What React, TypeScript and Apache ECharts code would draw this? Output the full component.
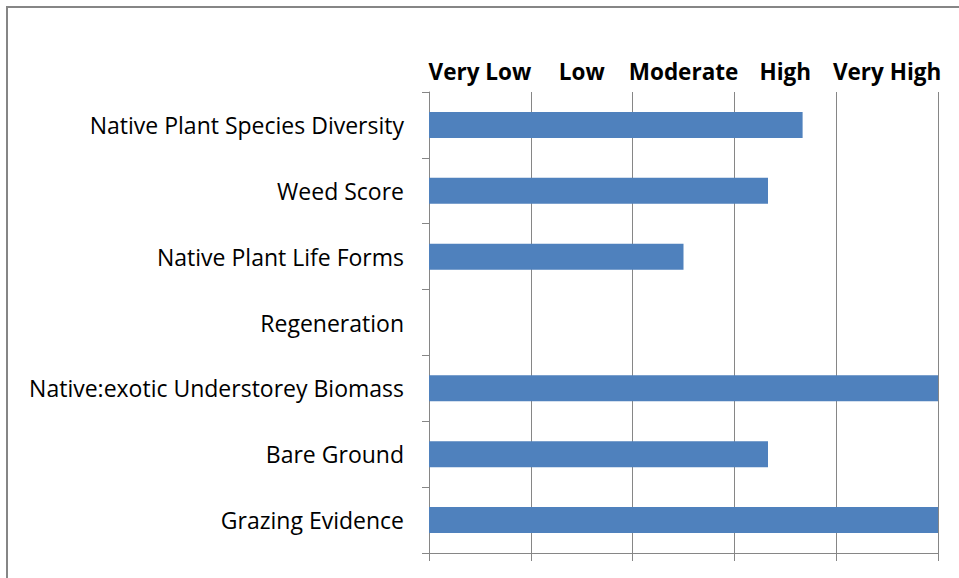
import React, { useEffect, useRef } from "react";
import * as echarts from "echarts";

const categories = [
  "Native Plant Species Diversity",
  "Weed Score",
  "Native Plant Life Forms",
  "Regeneration",
  "Native:exotic Understorey Biomass",
  "Bare Ground",
  "Grazing Evidence",
];
const scores = [3.67, 3.33, 2.5, 0, 5, 3.33, 5];
const ratingLabels = ["Very Low", "Low", "Moderate", "High", "Very High"];

const FONT = "'Open Sans', 'Noto Sans', sans-serif";
const GRID_COLOR = "#868686";

export default function App() {
  const ref = useRef<HTMLDivElement>(null);
  useEffect(() => {
    if (!ref.current) return;
    const chart = echarts.init(ref.current, undefined, { renderer: "svg" });
    chart.setOption({
      animation: false,
      backgroundColor: "#ffffff",
      textStyle: { fontFamily: FONT },
      grid: { left: 429, right: 21, top: 92, bottom: 25, containLabel: false },
      graphic: [
        {
          type: "rect",
          shape: { x: 7, y: 7, width: 970, height: 600 },
          style: { fill: "none", stroke: GRID_COLOR, lineWidth: 2 },
          silent: true,
        },
      ],
      xAxis: [
        {
          type: "value",
          position: "bottom",
          min: 0,
          max: 5,
          interval: 1,
          axisLine: { show: true, lineStyle: { color: GRID_COLOR, width: 1 } },
          axisTick: { show: true, length: 8, lineStyle: { color: GRID_COLOR } },
          axisLabel: { show: false },
          splitLine: { show: true, lineStyle: { color: GRID_COLOR, width: 1 } },
        },
        {
          type: "category",
          position: "top",
          data: ratingLabels,
          boundaryGap: true,
          axisLine: { show: false },
          axisTick: { show: false },
          splitLine: { show: false },
          axisLabel: {
            show: true,
            interval: 0,
            color: "#000000",
            fontWeight: "bold",
            fontSize: 22.5,
            fontFamily: FONT,
            margin: 9,
          },
        },
      ],
      yAxis: {
        type: "category",
        data: categories,
        inverse: true,
        axisLine: { show: true, lineStyle: { color: GRID_COLOR, width: 1 } },
        axisTick: { show: true, length: 7, lineStyle: { color: GRID_COLOR } },
        axisLabel: {
          color: "#000000",
          fontSize: 23,
          fontFamily: FONT,
          margin: 25,
        },
        splitLine: { show: false },
      },
      series: [
        {
          type: "bar",
          data: scores,
          xAxisIndex: 0,
          barWidth: 26,
          itemStyle: { color: "#4F81BD" },
        },
      ],
    });
    return () => chart.dispose();
  }, []);
  return (
    <div
      ref={ref}
      style={{ position: "fixed", left: 0, top: 0, width: 959, height: 578 }}
    />
  );
}
